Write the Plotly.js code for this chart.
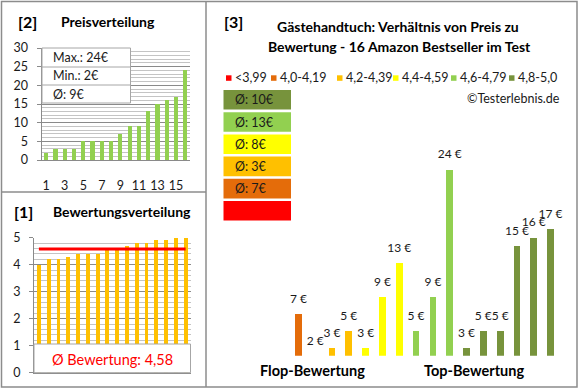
<!DOCTYPE html>
<html>
<head>
<meta charset="utf-8">
<script src="https://cdn.plot.ly/plotly-3.0.1.min.js"></script>
<style>
html,body{margin:0;padding:0;background:#fff;}
#chart{width:580px;height:390px;}
</style>
</head>
<body>
<div id="chart"></div>
<script>
// ---- data ----
const priceRank = [1,2,3,4,5,6,7,8,9,10,11,12,13,14,15,16];
const prices = [2,3,3,3,5,5,5,5,7,9,9,13,15,16,17,24];
const priceTicks = [1,3,5,7,9,11,13,15];
const ratings = [4.0,4.2,4.2,4.3,4.4,4.4,4.4,4.6,4.6,4.7,4.8,4.8,4.9,4.9,5.0,5.0];
const avgRating = 4.58;
const mainPrices = [7,2,3,5,3,9,13,5,9,24,3,5,5,15,16,17];
const mainGroups = [1,2,2,2,3,3,3,4,4,4,5,5,5,5,5,5];
const groupLabels = ['<3,99','4,0-4,19','4,2-4,39','4,4-4,59','4,6-4,79','4,8-5,0'];
const groupColors = ['#FF0000','#E46C0A','#FFC000','#FFFF00','#92D050','#77933C'];
const groupAvg = [null,7,3,8,13,10];

// ---- helpers (pixel -> paper) ----
const W = 580, H = 390;
const px = x => x / W;
const py = y => 1 - y / H;
const FONT = 'Lato, "Open Sans", sans-serif';
const TXT = '#1a1a1a';
const GRID_MAJ = '#8a8a8a', GRID_MIN = '#c4c4c4', BORDER = '#8c8c8c';

// main panel scale: visible baseline pixel sits at value MAIN_FLOOR
const MAIN_BASE_PX = 355.7, MAIN_FLOOR = 2.1, MAIN_TOP = 26, PX_PER_EUR = 8.5;
const AXIS_FLOOR = 1.0; // axis reaches lower so the 2 € label stays in range; part below baseline is masked
const mainTopPx = MAIN_BASE_PX - (MAIN_TOP - MAIN_FLOOR) * PX_PER_EUR;
const axisBasePx = MAIN_BASE_PX + (MAIN_FLOOR - AXIS_FLOOR) * PX_PER_EUR;

const traces = [
  { type:'bar', x: priceRank, y: prices, xaxis:'x', yaxis:'y',
    marker:{color:'#92D050'}, width:0.45, hoverinfo:'none' },
  { type:'bar', x: priceRank, y: ratings, xaxis:'x2', yaxis:'y2',
    marker:{color:'#FFC000'}, width:0.4, hoverinfo:'none' },
  { type:'scatter', mode:'lines', x:[priceRank[0], priceRank[priceRank.length-1]], y:[avgRating, avgRating],
    xaxis:'x2', yaxis:'y2', line:{color:'#FF0000', width:3}, hoverinfo:'none' },
  { type:'bar', x: priceRank, y: mainPrices, xaxis:'x3', yaxis:'y3',
    marker:{color: mainGroups.map(g => groupColors[g])}, width:0.4, hoverinfo:'none' },
  { type:'scatter', mode:'markers+text', x: priceRank, y: mainPrices, xaxis:'x3', yaxis:'y3',
    text: mainPrices.map(v => v+' €'), textposition:'top center', cliponaxis:false,
    marker:{size:12, color:'rgba(0,0,0,0)'},
    textfont:{family:FONT, size:12, color:TXT}, hoverinfo:'none' }
];

const shapes = [];
const annotations = [];
const ann = (x, y, text, font, xanchor) => annotations.push({xref:'paper', yref:'paper', x:px(x), y:py(y), text, showarrow:false,
  xanchor: xanchor || 'center', yanchor:'middle', font});

// mask below the visible baseline of the main panel
shapes.push({type:'rect', xref:'paper', yref:'paper', x0:px(286), x1:px(563), y0:py(MAIN_BASE_PX), y1:py(axisBasePx+1), fillcolor:'#fff', line:{width:0}, layer:'above'});

// frames
shapes.push({type:'rect', xref:'paper', yref:'paper', x0:px(1.5), x1:px(577), y0:py(1.5), y1:py(387), line:{color:BORDER, width:1.5}});
shapes.push({type:'line', xref:'paper', yref:'paper', x0:px(206), x1:px(206), y0:py(1.5), y1:py(387), line:{color:BORDER, width:1.5}});
shapes.push({type:'line', xref:'paper', yref:'paper', x0:px(1.5), x1:px(206), y0:py(192), y1:py(192), line:{color:BORDER, width:1.5}});

// panel 2 info box
shapes.push({type:'rect', xref:'paper', yref:'paper', x0:px(42), x1:px(130.5), y0:py(48), y1:py(103), fillcolor:'#fff', line:{color:'#a6a6a6', width:1}, layer:'above'});
shapes.push({type:'line', xref:'paper', yref:'paper', x0:px(42), x1:px(130.5), y0:py(67), y1:py(67), line:{color:'#a6a6a6', width:1}});
shapes.push({type:'line', xref:'paper', yref:'paper', x0:px(42), x1:px(130.5), y0:py(85), y1:py(85), line:{color:'#a6a6a6', width:1}});
const pMax = Math.max(...prices), pMin = Math.min(...prices);
const pAvg = Math.round(prices.reduce((a,b)=>a+b,0)/prices.length);
const infoFont = {family:FONT, size:12.5, color:TXT};
ann(51, 57.5, 'Max.: '+pMax+'€', infoFont, 'left');
ann(51, 76, 'Min.: '+pMin+'€', infoFont, 'left');
ann(51, 94, 'Ø: '+pAvg+'€', infoFont, 'left');

// panel 1 avg box
shapes.push({type:'rect', xref:'paper', yref:'paper', x0:px(34), x1:px(190.5), y0:py(344), y1:py(372.7), fillcolor:'#fff', line:{color:'#a6a6a6', width:1}, layer:'above'});
ann(112, 359, 'Ø Bewertung: '+avgRating.toFixed(2).replace('.',','), {family:FONT, size:14.5, color:'#FF0000'});

// titles
const titleFont = s => ({family:FONT, size:s, color:'#000', weight:'bold'});
ann(27, 21, '<b>[2]</b>', titleFont(16));
ann(107.5, 21, '<b>Preisverteilung</b>', titleFont(14));
ann(23, 211, '<b>[1]</b>', titleFont(16));
ann(121.5, 211, '<b>Bewertungsverteilung</b>', titleFont(14));
ann(233, 21.5, '<b>[3]</b>', titleFont(16));
ann(398, 27, '<b>Gästehandtuch: Verhältnis von Preis zu</b>', titleFont(14));
ann(399, 46, '<b>Bewertung - 16 Amazon Bestseller im Test</b>', titleFont(14));
ann(312.5, 370, '<b>Flop-Bewertung</b>', titleFont(14.5));
ann(474, 370, '<b>Top-Bewertung</b>', titleFont(14.5));

// legend row
const sqX = [226,271,337,393,451,509];
groupLabels.forEach((lab,i)=>{
  shapes.push({type:'rect', xref:'paper', yref:'paper', x0:px(sqX[i]), x1:px(sqX[i]+5.5), y0:py(75.3), y1:py(80.8), fillcolor:groupColors[i], line:{width:0}});
  ann(sqX[i]+6.5, 78, lab, {family:FONT, size:12.5, color:TXT}, 'left');
});
ann(562, 98, '©Testerlebnis.de', {family:FONT, size:12.5, color:TXT}, 'right');

// colour boxes with averages (top: best group)
for (let k=0; k<6; k++){
  const g = 5-k;
  const top = 90 + k*22.2;
  shapes.push({type:'rect', xref:'paper', yref:'paper', x0:px(223.5), x1:px(291), y0:py(top), y1:py(top+19.6), fillcolor:groupColors[g], line:{width:0}});
  if (groupAvg[g] !== null){
    ann(233, top+10, 'Ø: '+groupAvg[g]+'€', {family:FONT, size:12.5, color:TXT}, 'left');
  }
}

const layout = {
  width: W, height: H,
  margin:{l:0,r:0,t:0,b:0},
  paper_bgcolor:'#fff', plot_bgcolor:'#fff',
  showlegend:false,
  font:{family:FONT, color:TXT},
  bargap:0,
  xaxis:{domain:[px(41.5), px(190)], range:[0.5,16.5], tickvals:priceTicks, ticktext:priceTicks.map(String),
    showgrid:false, zeroline:false, showline:true, linecolor:GRID_MAJ, linewidth:1, ticks:'',
    ticklabelstandoff:14, tickfont:{family:FONT, size:12.5, color:TXT}, fixedrange:true},
  yaxis:{domain:[py(160), py(48)], range:[0,30], dtick:5, showgrid:true, gridcolor:GRID_MAJ, gridwidth:1,
    minor:{dtick:1, showgrid:true, gridcolor:GRID_MIN, gridwidth:1},
    zeroline:false, showline:true, linecolor:GRID_MAJ, linewidth:1, ticks:'outside', ticklen:4, tickcolor:GRID_MAJ,
    ticklabelstandoff:6, tickfont:{family:FONT, size:12.5, color:TXT}, fixedrange:true},
  xaxis2:{domain:[px(34), px(190.5)], range:[0.5,16.5], showticklabels:false, showgrid:false, zeroline:false,
    showline:true, linecolor:GRID_MAJ, linewidth:1, ticks:'', anchor:'y2', fixedrange:true},
  yaxis2:{domain:[py(372.7), py(237.7)], range:[0,5], dtick:1, showgrid:true, gridcolor:GRID_MAJ, gridwidth:1,
    minor:{dtick:0.2, showgrid:true, gridcolor:GRID_MIN, gridwidth:1},
    zeroline:false, showline:true, linecolor:GRID_MAJ, linewidth:1, ticks:'outside', ticklen:4, tickcolor:GRID_MAJ,
    ticklabelstandoff:6, tickfont:{family:FONT, size:12.5, color:TXT}, anchor:'x2', fixedrange:true},
  xaxis3:{domain:[px(290), px(559)], range:[0.5,16.5], visible:false, anchor:'y3', fixedrange:true},
  yaxis3:{domain:[py(axisBasePx), py(mainTopPx)], range:[AXIS_FLOOR, MAIN_TOP], visible:false, anchor:'x3', fixedrange:true},
  shapes: shapes,
  annotations: annotations
};

Plotly.newPlot('chart', traces, layout, {displayModeBar:false, staticPlot:true});
</script>
</body>
</html>
